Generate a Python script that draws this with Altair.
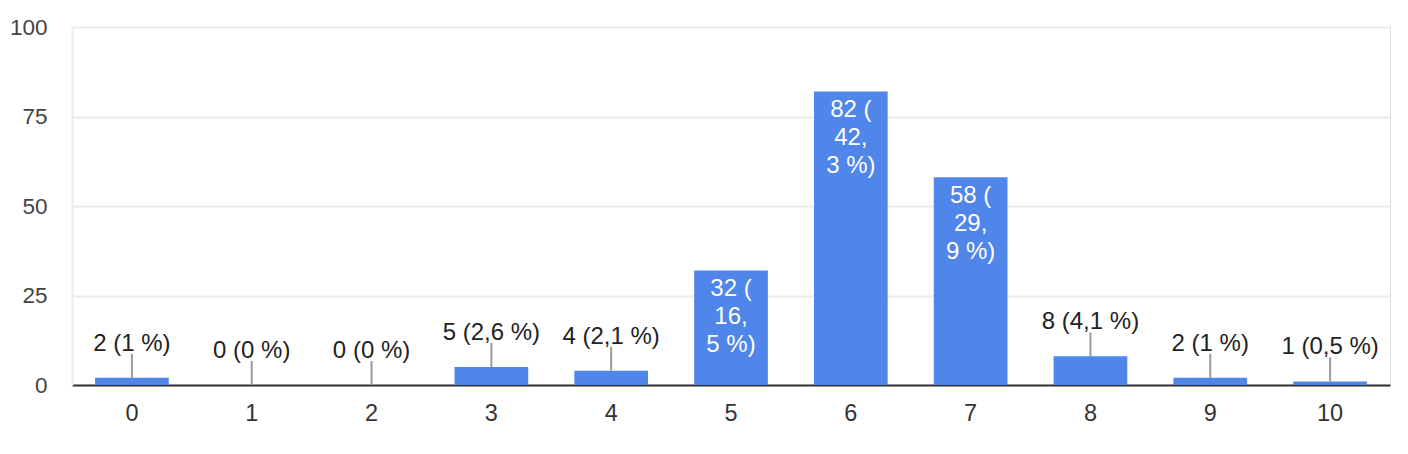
import altair as alt
import pandas as pd

categories = ["0", "1", "2", "3", "4", "5", "6", "7", "8", "9", "10"]
counts = [2, 0, 0, 5, 4, 32, 82, 58, 8, 2, 1]
labels = ["2 (1 %)", "0 (0 %)", "0 (0 %)", "5 (2,6 %)", "4 (2,1 %)",
          "32 (\n16,\n5 %)", "82 (\n42,\n3 %)", "58 (\n29,\n9 %)",
          "8 (4,1 %)", "2 (1 %)", "1 (0,5 %)"]
inside = [False, False, False, False, False, True, True, True, False, False, False]
y_ticks = [0, 25, 50, 75, 100]

df = pd.DataFrame({"cat": categories, "count": counts, "label": labels, "inside": inside})

FONT = "Liberation Sans"
BLUE = "#5085ea"

x = alt.X("cat:N", sort=categories, title=None,
          scale=alt.Scale(paddingInner=0.385, paddingOuter=0.1925),
          axis=alt.Axis(labelAngle=0, ticks=False, domainColor="#333333", domainWidth=2,
                        labelFontSize=23.5, labelColor="#333333", labelFont=FONT,
                        labelPadding=16, grid=False))
y = alt.Y("count:Q", title=None,
          scale=alt.Scale(domain=[0, 100], nice=False),
          axis=alt.Axis(values=y_ticks, ticks=False, domainColor="#ebebeb", domainWidth=2,
                        gridColor="#ebebeb", gridWidth=2, labelFontSize=22.5,
                        labelColor="#444444", labelFont=FONT, labelPadding=25))

base = alt.Chart(df)

bars = base.mark_bar(color=BLUE).encode(x=x, y=y)

outside_df = base.transform_filter("!datum.inside")

leaders = outside_df.mark_rule(color="#9a9a9a", strokeWidth=2, y2Offset=-24).encode(
    x=alt.X("cat:N", sort=categories), y="count:Q", y2="count:Q")

out_text = outside_df.mark_text(baseline="middle", align="center", dy=-34,
                                fontSize=24, font=FONT, color="#222222").encode(
    x=alt.X("cat:N", sort=categories), y="count:Q", text="label:N")

in_text = base.transform_filter("datum.inside").mark_text(
    baseline="top", align="center", dy=7, fontSize=24, font=FONT, color="white",
    lineBreak="\n", lineHeight=28).encode(
    x=alt.X("cat:N", sort=categories), y="count:Q", text="label:N")

chart = alt.layer(bars, leaders, out_text, in_text).properties(
    width=1318, height=358,
    autosize=alt.AutoSizeParams(type="none"),
    padding={"left": 64, "top": 19, "right": 2, "bottom": 50},
).configure_view(stroke=None).configure(background="white")

chart.save("out.html", embed_options={"renderer": "svg", "actions": False})
